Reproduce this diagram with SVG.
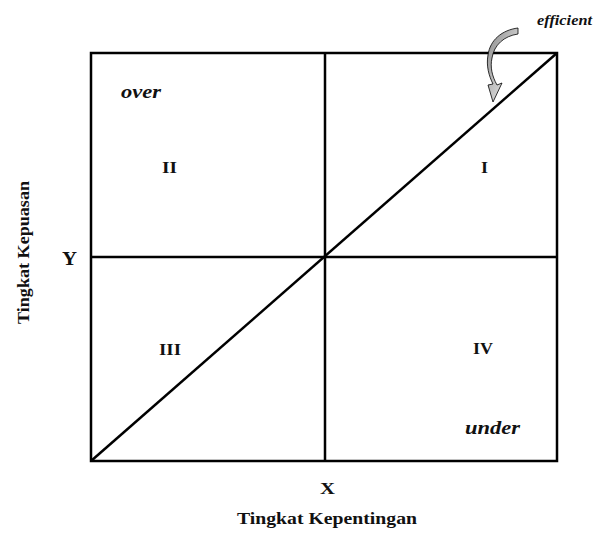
<svg xmlns="http://www.w3.org/2000/svg" width="614" height="533" viewBox="0 0 614 533">
<style>
.ln{stroke:#000;stroke-width:2.5;fill:none}
.t{font-family:"Liberation Serif",serif;font-weight:bold;fill:#111}
.i{font-style:italic}
</style>
<defs>
<linearGradient id="g" x1="0" y1="0" x2="1" y2="1">
<stop offset="0" stop-color="#888"/>
<stop offset="1" stop-color="#fff"/>
</linearGradient>
</defs>
<rect width="614" height="533" fill="#fff"/>
<g id="connectors">
<rect class="ln" x="91" y="53" width="466" height="408"/>
<line class="ln" x1="325" y1="53" x2="325" y2="461"/>
<line class="ln" x1="91" y1="257" x2="557" y2="257"/>
<line class="ln" x1="91" y1="461" x2="557" y2="53"/>
</g>
<g id="arrow">
<path d="M518,28 C502,30 490,40 488,55 C486,66 489,76 493,84 L488,85 L493,102 L502,83 L497,85 C492,76 490,67 492,58 C494,45 504,36 518,34 Z" fill="url(#g)" stroke="#000" stroke-width="0.8"/>
</g>
<g id="labels">
<text class="t i" x="537" y="25" font-size="15" textLength="55" lengthAdjust="spacingAndGlyphs">efficient</text>
<text class="t i" x="121" y="98" font-size="18" textLength="40" lengthAdjust="spacingAndGlyphs">over</text>
<text class="t" x="162" y="173" font-size="16" textLength="15" lengthAdjust="spacingAndGlyphs">II</text>
<text class="t" x="481" y="173" font-size="16" textLength="7" lengthAdjust="spacingAndGlyphs">I</text>
<text class="t" x="159" y="355" font-size="16" textLength="22" lengthAdjust="spacingAndGlyphs">III</text>
<text class="t" x="473" y="354" font-size="16" textLength="20" lengthAdjust="spacingAndGlyphs">IV</text>
<text class="t i" x="465" y="434" font-size="19" textLength="55" lengthAdjust="spacingAndGlyphs">under</text>
<text class="t" x="62" y="265" font-size="18" textLength="15" lengthAdjust="spacingAndGlyphs">Y</text>
<text class="t" x="320" y="494" font-size="16" textLength="15" lengthAdjust="spacingAndGlyphs">X</text>
<text class="t" x="237" y="524" font-size="17" textLength="180" lengthAdjust="spacingAndGlyphs">Tingkat Kepentingan</text>
<text class="t" x="0" y="0" font-size="17" textLength="143" lengthAdjust="spacingAndGlyphs" transform="translate(29,324) rotate(-90)">Tingkat Kepuasan</text>
</g>
</svg>
